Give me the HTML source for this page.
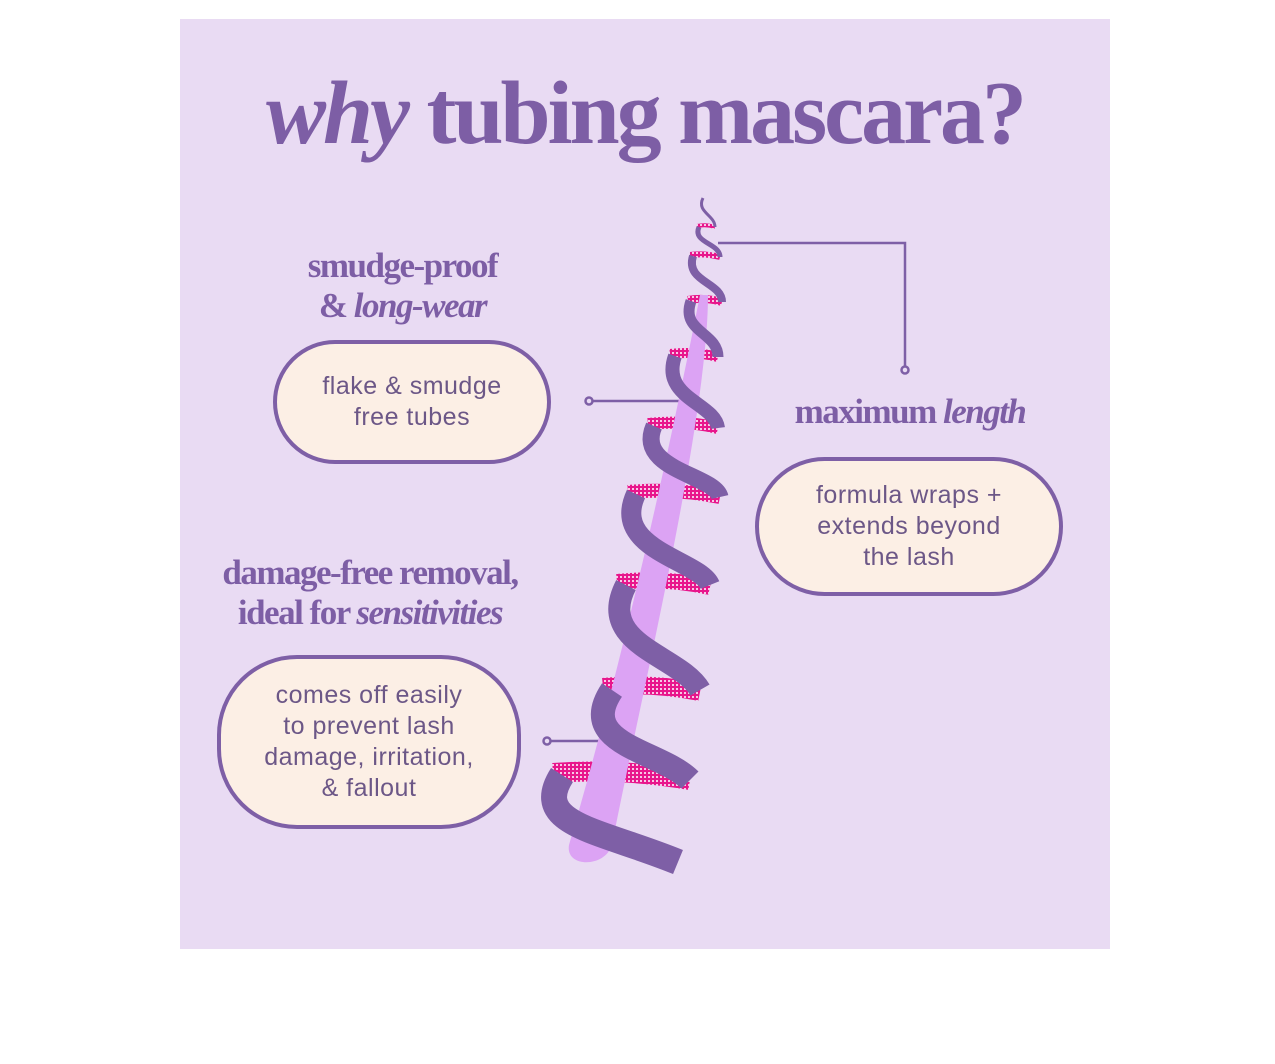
<!DOCTYPE html>
<html><head><meta charset="utf-8"><style>
body{margin:0;width:1275px;height:1064px;background:#fff;position:relative;overflow:hidden}
.panel{position:absolute;left:180px;top:19px;width:930px;height:930px;background:#E9DBF3}
.h{position:absolute;font-family:"Liberation Serif",serif;color:#7D5EA5;text-align:center;letter-spacing:-1.5px;white-space:nowrap;font-weight:bold}
.box{position:absolute;box-sizing:border-box;border:4px solid #7E5FA6;background:#FCEFE5;border-radius:80px;display:flex;align-items:center;justify-content:center;text-align:center;font-family:"Liberation Sans",sans-serif;color:#6C5787;font-size:25px;line-height:31px;letter-spacing:0.5px}
</style></head><body>
<div class="panel"></div>
<div class="h" style="left:180px;width:930px;top:62px;font-size:90px;letter-spacing:-3px"><i>why</i> tubing mascara?</div>
<div class="h" style="left:260px;width:285px;top:246px;font-size:35px;line-height:40px">smudge-proof<br>&amp; <i>long-wear</i></div>
<div class="h" style="left:760px;width:300px;top:392px;font-size:35px">maximum <i>length</i></div>
<div class="h" style="left:190px;width:360px;top:553px;font-size:35px;line-height:40px">damage-free removal,<br>ideal for <i>sensitivities</i></div>
<div class="box" style="left:273px;top:340px;width:278px;height:124px">flake &amp; smudge<br>free tubes</div>
<div class="box" style="left:755px;top:457px;width:308px;height:139px">formula wraps +<br>extends beyond<br>the lash</div>
<div class="box" style="left:217px;top:655px;width:304px;height:174px">comes off easily<br>to prevent lash<br>damage, irritation,<br>&amp; fallout</div>
<svg width="1275" height="1064" style="position:absolute;left:0;top:0">
<defs><pattern id="pk" width="4" height="4" patternUnits="userSpaceOnUse"><rect width="4" height="4" fill="#E8168C"/><rect width="2" height="2" fill="#F7C8E6"/></pattern></defs>
<g stroke="#7E5FA6" stroke-width="2.5" fill="none">
<path d="M718 243 H905 V367"/><circle cx="905" cy="370" r="3.5"/>
<path d="M593 401 H692"/><circle cx="589" cy="401" r="3.5"/>
<path d="M551 741 H612"/><circle cx="547" cy="741" r="3.5"/>
</g>
<g fill="none" stroke="url(#pk)" stroke-linecap="butt">
<path d="M553 773 Q620 768 690 780" stroke-width="20"/>
<path d="M603 687 Q650 682 700 692" stroke-width="18"/>
<path d="M617 582 Q665 577 710 587" stroke-width="16"/>
<path d="M628 492 Q675 488 720 497" stroke-width="14"/>
<path d="M648 424 Q685 420 718 428" stroke-width="12"/>
<path d="M670 354 Q695 351 718 357" stroke-width="10"/>
<path d="M688 300 Q705 297 722 302" stroke-width="8"/>
<path d="M690 255 Q705 253 720 257" stroke-width="6"/>
<path d="M697 226 Q706 224 715 227" stroke-width="4"/>
</g>
<path d="M569 845 C585 790 640 600 700 295 L708 295 C708 420 640 700 612 845 C605 868 565 868 569 845Z" fill="#DCA3F4"/>
<g fill="none" stroke="#7E5FA6" stroke-linecap="butt">
<path d="M562 775 C530 825 600 830 678 862" stroke-width="26"/>
<path d="M612 690 C575 745 660 750 690 780" stroke-width="24"/>
<path d="M626 585 C595 645 680 655 700 690" stroke-width="22"/>
<path d="M636 494 C610 550 700 560 710 585" stroke-width="20"/>
<path d="M654 426 C635 470 715 475 720 497" stroke-width="17"/>
<path d="M675 356 C660 398 715 403 718 428" stroke-width="14"/>
<path d="M691 301 C680 332 718 332 718 357" stroke-width="11"/>
<path d="M693 256 C685 282 722 282 722 302" stroke-width="8"/>
<path d="M699 227 C692 243 720 243 720 257" stroke-width="5"/>
<path d="M703 198 C696 212 715 215 715 227" stroke-width="3"/>
</g>
</svg>
</body></html>
